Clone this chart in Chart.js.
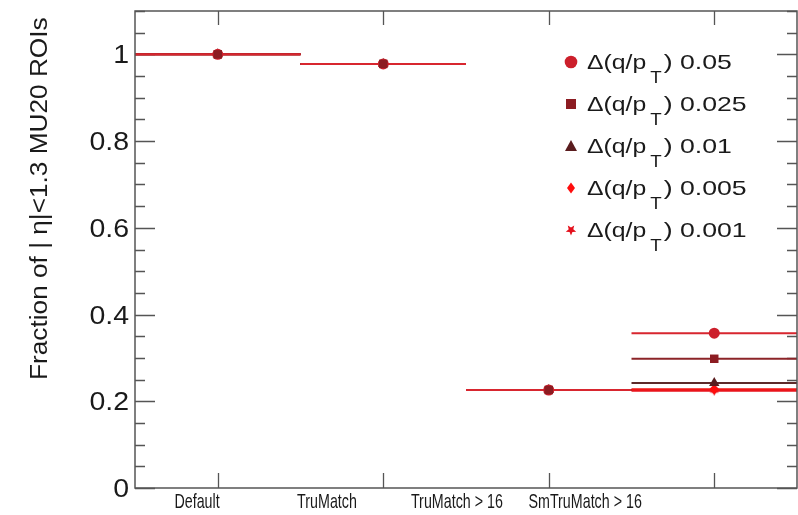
<!DOCTYPE html>
<html><head><meta charset="utf-8">
<script src="https://cdn.jsdelivr.net/npm/chart.js@4.4.1/dist/chart.umd.min.js"></script>
<style>html,body{margin:0;padding:0;background:#fff}canvas{display:block}</style>
</head><body>
<canvas id="c" width="798" height="515"></canvas>
<script>
// ---- data ----
const categories = ['Default', 'TruMatch', 'TruMatch > 16', 'SmTruMatch > 16'];
const seriesLabels = ['0.05', '0.025', '0.01', '0.005', '0.001'];
const dq005  = [1.0, 0.978, 0.226, 0.357];
const dq0025 = [1.0, 0.978, 0.226, 0.298];
const dq001  = [1.0, 0.978, 0.226, 0.242];
const dq0005 = [1.0, 0.978, 0.226, 0.228];
const dq0001 = [1.0, 0.978, 0.226, 0.224];
const yTickValues = [0, 0.2, 0.4, 0.6, 0.8, 1];
const xLabelPos = [0.375, 1.16, 1.945, 2.72];
const yTitle = 'Fraction of | \u03B7|<1.3 MU20 ROIs';

const seriesValues = [dq005, dq0025, dq001, dq0005, dq0001];
const colors = ['#cc1f2b', '#8c1c22', '#5a1c1e', '#ff0d0d', '#e4101c'];
const lineColors = ['#d8262f', '#8c2428', '#5e2a2a', '#f01515', '#e8141e'];
const markerOrder = [1, 0, 2, 3, 4];
const FONT = '"Liberation Sans", Arial, sans-serif';

function starPath(ctx, cx, cy, ro, ri, rot) {
  ctx.beginPath();
  for (let k = 0; k < 10; k++) {
    const r = k % 2 ? ri : ro;
    const a = rot + k * Math.PI / 5;
    const px = cx + r * Math.sin(a), py = cy - r * Math.cos(a);
    k ? ctx.lineTo(px, py) : ctx.moveTo(px, py);
  }
  ctx.closePath();
}
function makeStar(size, color) {
  const cv = document.createElement('canvas');
  cv.width = size; cv.height = size;
  const c = cv.getContext('2d');
  c.fillStyle = color;
  starPath(c, size / 2, size / 2, size / 2 - 0.5, size / 4.5, Math.PI);
  c.fill();
  return cv;
}
const starImg = makeStar(11, colors[4]);
const pStyles = ['circle', 'rect', 'triangle', 'rectRot', starImg];
const pRadius = [5.5, 6, 6, 5, 5];

// build datasets
const datasets = [];
seriesValues.forEach((vals, s) => {
  const segs = [];
  vals.forEach((v, i) => {
    segs.push({x: i, y: v}, {x: i + 1, y: v}, {x: i + 1, y: null});
  });
  datasets.push({
    type: 'line', label: seriesLabels[s], data: segs,
    borderColor: lineColors[s], borderWidth: 2, pointRadius: 0,
    spanGaps: false, tension: 0, order: 10 + s
  });
  datasets.push({
    type: 'scatter', label: seriesLabels[s] + ' pts',
    data: vals.map((v, i) => ({x: i + 0.5, y: v})),
    backgroundColor: colors[s], borderColor: colors[s], borderWidth: 0,
    pointStyle: pStyles[s], pointRadius: pRadius[s], order: markerOrder[s]
  });
});

function sText(ctx, str, x, y, font, sx, align) {
  ctx.save();
  ctx.font = font;
  const w = ctx.measureText(str).width * sx;
  const x0 = align === 'right' ? x - w : align === 'center' ? x - w / 2 : x;
  ctx.translate(x0, y); ctx.scale(sx, 1);
  ctx.textAlign = 'left'; ctx.textBaseline = 'alphabetic';
  ctx.fillText(str, 0, 0);
  ctx.restore();
  return w;
}
function drawMarker(ctx, s, x, y) {
  ctx.save();
  ctx.fillStyle = colors[s];
  ctx.beginPath();
  if (s === 0) { ctx.arc(x, y, 6.3, 0, Math.PI * 2); ctx.fill(); }
  else if (s === 1) { ctx.fillRect(x - 5, y - 5, 10, 10); }
  else if (s === 2) { ctx.moveTo(x, y - 6); ctx.lineTo(x + 6, y + 5); ctx.lineTo(x - 6, y + 5); ctx.closePath(); ctx.fill(); }
  else if (s === 3) { ctx.moveTo(x, y - 5.5); ctx.lineTo(x + 4, y); ctx.lineTo(x, y + 5.5); ctx.lineTo(x - 4, y); ctx.closePath(); ctx.fill(); }
  else { starPath(ctx, x, y, 5.5, 2.4, Math.PI); ctx.fill(); }
  ctx.restore();
}

const decor = {
  id: 'decor',
  beforeDatasetsDraw(chart) {
    const {ctx, chartArea: a, scales: {x, y}} = chart;
    ctx.save();
    ctx.strokeStyle = '#555555';
    // y ticks (inward, both sides)
    ctx.lineWidth = 1.3;
    for (let i = 0; i <= 22; i++) {
      const py = Math.round(y.getPixelForValue(i * 0.05)) + 0.5;
      const len = i % 4 === 0 ? 20 : 10;
      ctx.beginPath();
      ctx.moveTo(a.left, py); ctx.lineTo(a.left + len, py);
      ctx.moveTo(a.right, py); ctx.lineTo(a.right - len, py);
      ctx.stroke();
    }
    // x ticks at bin centres
    categories.forEach((c, i) => {
      const px = Math.round(x.getPixelForValue(i + 0.5)) + 0.5;
      ctx.beginPath();
      ctx.moveTo(px, a.bottom); ctx.lineTo(px, a.bottom - 15);
      ctx.moveTo(px, a.top); ctx.lineTo(px, a.top + 14);
      ctx.stroke();
    });
    ctx.restore();
  },
  afterDatasetsDraw(chart) {
    const {ctx, chartArea: a, scales: {x, y}} = chart;
    ctx.save();
    ctx.strokeStyle = '#555555'; ctx.lineWidth = 1.5;
    ctx.strokeRect(a.left, a.top, a.right - a.left, a.bottom - a.top);
    ctx.fillStyle = '#1a1a1a';
    // y tick labels
    yTickValues.forEach(v => {
      const py = y.getPixelForValue(v);
      const txt = (v === 0 || v === 1) ? String(v) : v.toFixed(1);
      sText(ctx, txt, 129, py + 9, '25px ' + FONT, 1.14, 'right');
    });
    // x labels
    categories.forEach((c, i) => {
      sText(ctx, c, x.getPixelForValue(xLabelPos[i]), 508, '21px ' + FONT, 0.68, 'center');
    });
    // y title
    ctx.save();
    ctx.translate(47, 380); ctx.rotate(-Math.PI / 2);
    sText(ctx, yTitle, 0, 0, '23px ' + FONT, 1.14, 'left');
    ctx.restore();
    // legend
    seriesLabels.forEach((lab, s) => {
      const my = 62 + s * 42;
      drawMarker(ctx, s, 571, my);
      let tx = 587;
      tx += sText(ctx, '\u0394(q/p', tx, my + 7, '21px ' + FONT, 1.18, 'left');
      tx += 4;
      tx += sText(ctx, 'T', tx, my + 21, '17px ' + FONT, 1.1, 'left');
      tx += 2;
      sText(ctx, ') ' + lab, tx, my + 7, '21px ' + FONT, 1.27, 'left');
    });
    ctx.restore();
  }
};

new Chart(document.getElementById('c'), {
  type: 'line',
  data: {datasets},
  options: {
    responsive: false, animation: false, devicePixelRatio: 1,
    layout: {autoPadding: false, padding: {left: 135, top: 11, right: 1, bottom: 27}},
    plugins: {legend: {display: false}, tooltip: {enabled: false}},
    scales: {
      x: {type: 'linear', min: 0, max: 4, display: false},
      y: {type: 'linear', min: 0, max: 1.1, display: false}
    }
  },
  plugins: [decor]
});
</script>
</body></html>
